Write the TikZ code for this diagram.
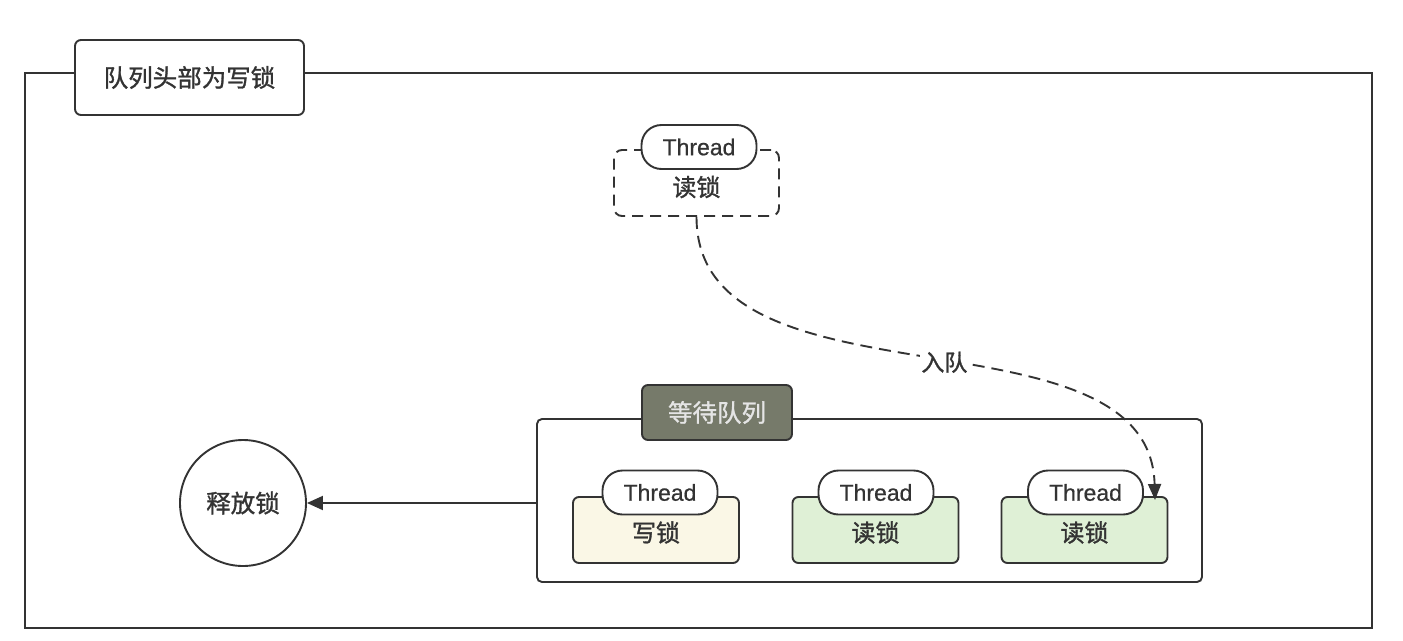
\documentclass[tikz,border=0pt]{standalone}
\usepackage{fontspec}
\setmainfont{Liberation Sans}[FakeBold=0.5]
\newfontfamily\cjk{Noto Sans CJK SC}[FakeBold=1.2]
\newfontfamily\latin{Liberation Sans}[FakeBold=0.6]
\usetikzlibrary{arrows.meta}
\definecolor{ln}{HTML}{333333}
\definecolor{qhead}{HTML}{767A6A}
\definecolor{cream}{HTML}{FAF7E6}
\definecolor{lgreen}{HTML}{DFF0D6}
\tikzset{
  frame/.style={draw=ln, line width=1.9pt, inner sep=0pt},
  tag/.style={frame, fill=white, rounded corners=6pt, font=\cjk\fontsize{24.5}{27}\selectfont, text=ln},
  pill/.style={frame, fill=white, rounded corners=20pt, minimum width=115pt, minimum height=44pt, font=\latin\fontsize{23}{26}\selectfont, text=ln},
  lockbox/.style={frame, rounded corners=6pt, minimum width=166pt, minimum height=66pt, font=\cjk\fontsize{24}{26}\selectfont, text=ln, text depth=0pt},
  dashline/.style={dash pattern=on 11pt off 7pt},
}
\begin{document}
\begin{tikzpicture}[x=1pt,y=-1pt]
\useasboundingbox[fill=white] (0,0) rectangle (1403,640);
% outer frame
\node[frame, minimum width=1347pt, minimum height=555pt] (outer) at (698.5,350.5) {};
\node[tag, minimum width=229pt, minimum height=75pt] (title) at (189.5,77.5) {队列头部为写锁};
% incoming reader
\node[lockbox, dashline, rounded corners=8pt, minimum width=165pt, minimum height=66pt] (newr) at (696.5,183) {\raisebox{-6pt}{读锁}};
\node[pill] (newp) at (699,147) {Thread};
% wait queue
\node[frame, rounded corners=5pt, minimum width=665pt, minimum height=163pt] (queue) at (869.5,500.5) {};
\node[tag, fill=qhead, text=white!90!black, minimum width=150pt, minimum height=55pt] (qtitle) at (717,412.5) {等待队列};
\node[lockbox, fill=cream] (b1) at (656,530) {\raisebox{-3pt}{写锁}};
\node[pill] (p1) at (660,492.5) {Thread};
\node[lockbox, fill=lgreen] (b2) at (875.5,530) {\raisebox{-3pt}{读锁}};
\node[pill] (p2) at (876,492.5) {Thread};
\node[lockbox, fill=lgreen] (b3) at (1084.5,530) {\raisebox{-3pt}{读锁}};
\node[pill] (p3) at (1085.5,492.5) {Thread};
% release
\node[frame, circle, minimum size=126pt, font=\cjk\fontsize{24.5}{27}\selectfont, text=ln] (rel) at (243,503) {释放锁};
\draw[draw=ln, line width=1.9pt, -{Triangle[length=16pt,width=14pt]}] (rel.east -| queue.west) -- (rel.east);
% enqueue arrow
\coordinate (qin) at (1155,500);
\draw[draw=ln, line width=1.9pt, dash pattern=on 12pt off 7pt, -{Triangle[length=16pt,width=13pt]}]
  (newr.south) .. controls +(0,200) and +(-5,-200) .. (qin)
  node[pos=0.53, fill=white, inner sep=1pt, font=\cjk\fontsize{23}{25}\selectfont, text=ln] (enq) {入队};
\end{tikzpicture}
\end{document}
